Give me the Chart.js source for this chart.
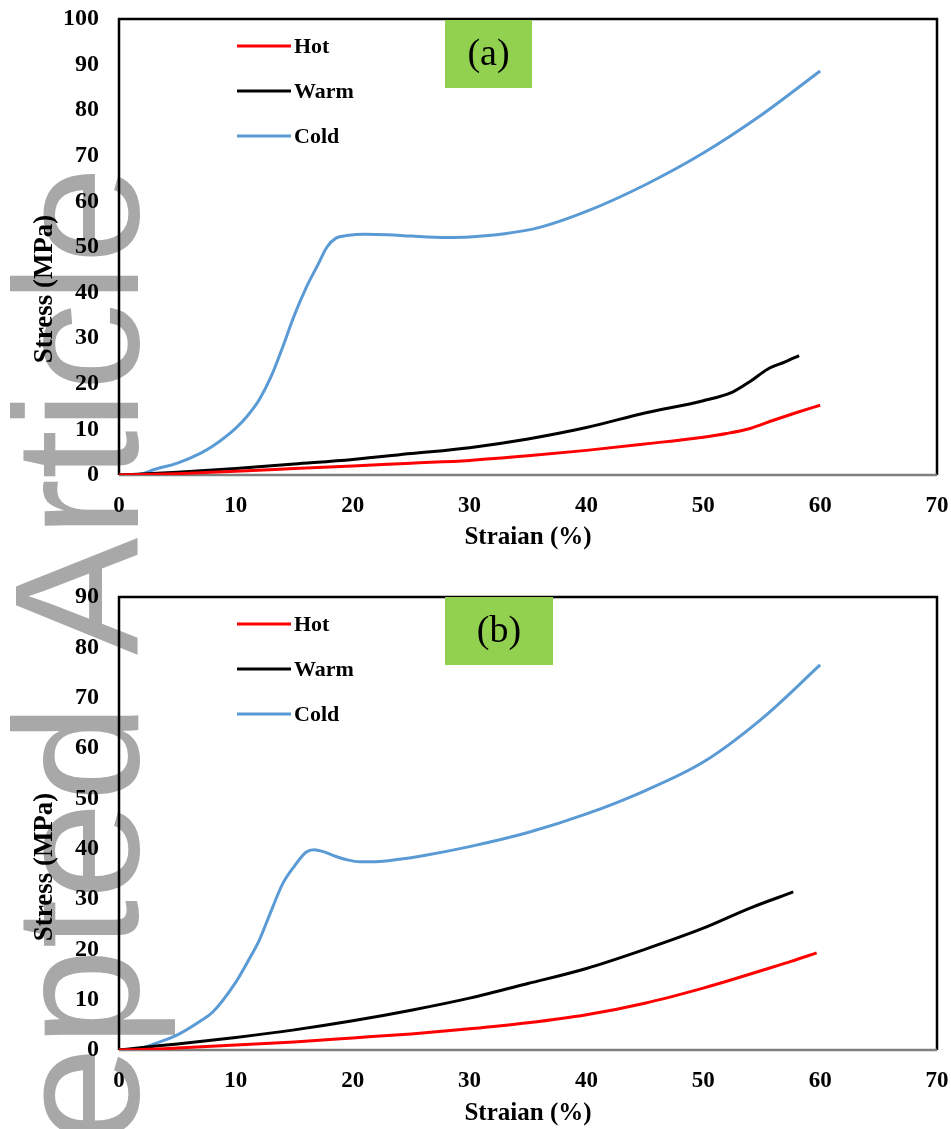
<!DOCTYPE html>
<html>
<head>
<meta charset="utf-8">
<script src="https://cdn.jsdelivr.net/npm/chart.js@4.4.1/dist/chart.umd.min.js"></script>
<style>
  html, body { margin: 0; padding: 0; background: #fff; }
  #page { position: relative; width: 951px; height: 1129px; overflow: hidden; }
  #boxA { position: absolute; left: 0; top: 0; width: 951px; height: 560px; }
  #boxB { position: absolute; left: 0; top: 560px; width: 951px; height: 569px; }
  #mark { position: absolute; left: 0; top: 0; mix-blend-mode: multiply; pointer-events: none; }
</style>
</head>
<body>
<div id="page">
  <div id="boxA"><canvas id="chartA" width="951" height="560"></canvas></div>
  <div id="boxB"><canvas id="chartB" width="951" height="569"></canvas></div>
  <canvas id="mark" width="951" height="1129"></canvas>
</div>
<script>
// (a) strain (%) / stress (MPa)
const hotStrainA  = [0, 2, 5, 10, 15, 20, 25, 30, 35, 40, 45, 50, 52, 54, 56, 58, 60];
const hotStressA  = [0, 0.1, 0.3, 0.8, 1.4, 2.0, 2.6, 3.2, 4.2, 5.4, 6.8, 8.3, 9.1, 10.2, 12.0, 13.7, 15.3];
const warmStrainA = [0, 2, 5, 10, 15, 20, 25, 30, 35, 40, 45, 50, 52.5, 54, 55.5, 57, 58.2];
const warmStressA = [0, 0.2, 0.6, 1.4, 2.4, 3.4, 4.7, 6.0, 7.9, 10.4, 13.6, 16.3, 18.2, 20.5, 23.2, 24.8, 26.2];
const coldStrainA = [0, 1, 2, 3, 5, 7, 8, 10, 11, 12, 13, 14, 15, 16, 17, 17.8, 18.6, 19.5, 21, 23, 25, 28, 30, 33, 36, 40, 45, 50, 55, 60];
const coldStressA = [0, 0, 0.3, 1.2, 2.6, 4.8, 6.3, 10.3, 13, 16.5, 21.5, 28, 35, 41, 46, 50, 52, 52.5, 52.8, 52.7, 52.4, 52.1, 52.2, 52.9, 54.3, 57.8, 63.6, 70.6, 79, 88.6];

// (b)
const hotStrainB  = [0, 2, 5, 10, 15, 20, 25, 30, 35, 40, 45, 50, 52.5, 55, 57.5, 59.7];
const hotStressB  = [0, 0.1, 0.4, 1.0, 1.6, 2.4, 3.2, 4.2, 5.4, 7.0, 9.3, 12.3, 14.0, 15.8, 17.6, 19.3];
const warmStrainB = [0, 2, 5, 10, 15, 20, 25, 30, 35, 40, 45, 50, 54, 57.7];
const warmStressB = [0, 0.5, 1.2, 2.5, 4.0, 5.8, 7.9, 10.3, 13.2, 16.2, 20.0, 24.2, 28.2, 31.4];
const coldStrainB = [0, 1, 2, 3, 5, 7, 8, 10, 11, 12, 13, 14, 15, 16, 16.7, 17.5, 18.5, 19.5, 20.6, 22, 24, 26, 30, 35, 40, 45, 50, 55, 60];
const coldStressB = [0, 0, 0.4, 1.2, 3.0, 5.8, 7.5, 13.5, 17.5, 21.8, 27.5, 33, 36.5, 39.3, 39.8, 39.4, 38.5, 37.8, 37.4, 37.4, 37.9, 38.6, 40.4, 43.2, 46.9, 51.5, 57.2, 65.8, 76.5];

const seriesNames = ['Hot', 'Warm', 'Cold'];
const seriesColors = ['#ff0000', '#000000', '#5b9bd5'];
const xTitle = 'Straian (%)';
const yTitle = 'Stress (MPa)';

Chart.defaults.font.family = '"Liberation Serif", "Times New Roman", serif';
Chart.defaults.color = '#000';

function pts(xs, ys) {
    return xs.map((x, i) => ({ x: x, y: ys[i] }));
}

// box around the plot area
const framePlugin = {
    id: 'frame',
    beforeDatasetsDraw(chart) {
        const { ctx, chartArea: a } = chart;
        ctx.save();
        ctx.lineWidth = 2.5;
        ctx.strokeStyle = '#000';
        ctx.beginPath();
        ctx.moveTo(a.left, a.bottom);
        ctx.lineTo(a.left, a.top);
        ctx.lineTo(a.right, a.top);
        ctx.lineTo(a.right, a.bottom);
        ctx.stroke();
        ctx.strokeStyle = '#7f7f7f';
        ctx.beginPath();
        ctx.moveTo(a.left, a.bottom);
        ctx.lineTo(a.right, a.bottom);
        ctx.stroke();
        ctx.restore();
    }
};

// legend, panel tag and y title drawn inside/beside the plot
const extrasPlugin = {
    id: 'extras',
    afterDraw(chart, args, opts) {
        const { ctx, chartArea: a } = chart;
        ctx.save();
        // green tag
        ctx.fillStyle = '#92d050';
        ctx.fillRect(a.left + 326, a.top + opts.tagTop, opts.tagWidth, 68);
        ctx.fillStyle = '#000';
        ctx.font = '38px "Liberation Serif"';
        ctx.textAlign = 'center';
        ctx.textBaseline = 'middle';
        ctx.fillText(opts.tag, a.left + 326 + opts.tagWidth / 2, a.top + opts.tagTop + 35);

        // legend
        ctx.font = 'bold 22px "Liberation Serif"';
        ctx.textAlign = 'left';
        chart.data.datasets.forEach((ds, i) => {
            const y = a.top + 27 + i * 45;
            ctx.strokeStyle = ds.borderColor;
            ctx.lineWidth = 3;
            ctx.beginPath();
            ctx.moveTo(a.left + 118, y);
            ctx.lineTo(a.left + 172, y);
            ctx.stroke();
            ctx.fillStyle = '#000';
            ctx.fillText(ds.label, a.left + 175, y + 1);
        });

        // y axis title
        ctx.translate(45, a.top + 270);
        ctx.rotate(-Math.PI / 2);
        ctx.font = 'bold 27px "Liberation Serif"';
        ctx.textAlign = 'center';
        ctx.textBaseline = 'middle';
        ctx.fillText(yTitle, 0, 0);
        ctx.restore();
    }
};

function makeChart(id, sets, yMax, padTop, xHeight, titlePad, tag, tagTop, tagWidth) {
    const ctx = document.getElementById(id).getContext('2d');
    return new Chart(ctx, {
        type: 'line',
        data: {
            datasets: sets.map((s, i) => ({
                label: seriesNames[i],
                data: pts(s[0], s[1]),
                borderColor: seriesColors[i],
                backgroundColor: seriesColors[i],
                borderWidth: 3,
                pointRadius: 0,
                tension: 0.4,
                cubicInterpolationMode: 'monotone',
                fill: false
            }))
        },
        options: {
            responsive: false,
            animation: false,
            layout: { padding: { left: 0, right: 14, top: padTop, bottom: 0 } },
            plugins: {
                legend: { display: false },
                tooltip: { enabled: false },
                extras: { tag: tag, tagTop: tagTop, tagWidth: tagWidth }
            },
            scales: {
                x: {
                    type: 'linear',
                    min: 0,
                    max: 70,
                    grid: { display: false, drawTicks: false },
                    border: { display: false },
                    ticks: { stepSize: 10, padding: 17, font: { size: 23, weight: 'bold' } },
                    title: {
                        display: true,
                        text: xTitle,
                        font: { size: 25, weight: 'bold' },
                        padding: { top: 0, bottom: titlePad }
                    },
                    afterFit(scale) {
                        scale.height = xHeight;
                        scale.paddingLeft = 0;
                        scale.paddingRight = 0;
                    }
                },
                y: {
                    min: 0,
                    max: yMax,
                    grid: { display: false, drawTicks: false },
                    border: { display: false },
                    ticks: { stepSize: 10, padding: 20, font: { size: 24, weight: 'bold' } },
                    afterFit(scale) {
                        scale.width = 119;
                        scale.paddingTop = 0;
                        scale.paddingBottom = 0;
                    }
                }
            }
        },
        plugins: [framePlugin, extrasPlugin]
    });
}

makeChart('chartA',
    [[hotStrainA, hotStressA], [warmStrainA, warmStressA], [coldStrainA, coldStressA]],
    100, 19, 85, 7, '(a)', 1, 87);

makeChart('chartB',
    [[hotStrainB, hotStressB], [warmStrainB, warmStressB], [coldStrainB, coldStressB]],
    90, 37, 79, 0, '(b)', 0, 108);

// journal watermark
const mark = document.getElementById('mark').getContext('2d');
mark.fillStyle = '#a8a8a8';
mark.font = '176px "Liberation Sans"';
mark.textAlign = 'right';
mark.textBaseline = 'alphabetic';
mark.translate(138, 166);
mark.rotate(-Math.PI / 2);
mark.fillText('Accepted Article', 0, 0);
</script>
</body>
</html>
